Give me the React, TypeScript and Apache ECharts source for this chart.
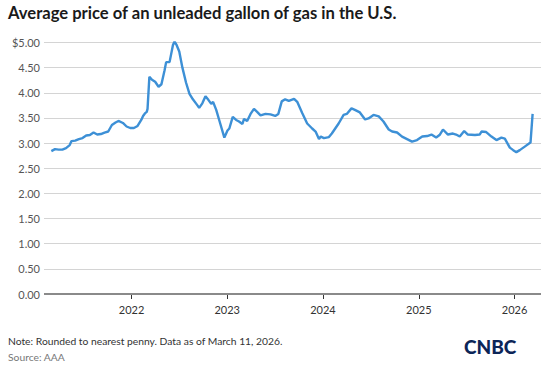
import React, { useEffect, useRef } from "react";
import * as echarts from "echarts";

const dates: string[] = [
  "2021-03-01","2021-03-15","2021-03-29","2021-04-12","2021-04-26","2021-05-10","2021-05-17","2021-05-31",
  "2021-06-14","2021-06-28","2021-07-12","2021-07-26","2021-08-09","2021-08-23","2021-09-06","2021-09-20",
  "2021-10-04","2021-10-18","2021-11-01","2021-11-12","2021-11-29","2021-12-13","2021-12-27","2022-01-10",
  "2022-01-24","2022-02-07","2022-02-14","2022-02-21","2022-02-28","2022-03-03","2022-03-10","2022-03-20",
  "2022-04-01","2022-04-14","2022-04-25","2022-05-07","2022-05-13","2022-05-26","2022-06-08","2022-06-14",
  "2022-06-21","2022-07-02","2022-07-14","2022-07-28","2022-08-10","2022-08-23","2022-09-08","2022-09-16",
  "2022-09-28","2022-10-10","2022-10-21","2022-11-01","2022-11-08","2022-11-20","2022-12-03","2022-12-21",
  "2023-01-02","2023-01-09","2023-01-22","2023-02-04","2023-02-15","2023-02-28","2023-03-06","2023-03-18",
  "2023-03-31","2023-04-13","2023-04-25","2023-05-08","2023-05-27","2023-06-15","2023-07-03","2023-07-15",
  "2023-07-28","2023-08-10","2023-08-24","2023-09-13","2023-09-25","2023-10-14","2023-11-02","2023-11-21",
  "2023-12-04","2023-12-17","2023-12-24","2024-01-05","2024-01-24","2024-02-04","2024-02-17","2024-03-01",
  "2024-03-20","2024-04-01","2024-04-19","2024-05-02","2024-05-21","2024-06-10","2024-06-23","2024-07-12",
  "2024-08-01","2024-08-19","2024-09-08","2024-09-21","2024-10-10","2024-10-29","2024-11-17","2024-12-06",
  "2024-12-25","2025-01-14","2025-02-02","2025-02-18","2025-03-08","2025-03-21","2025-04-03","2025-04-22",
  "2025-05-11","2025-05-23","2025-06-06","2025-06-23","2025-07-07","2025-08-03","2025-08-21","2025-08-28",
  "2025-09-15","2025-10-05","2025-10-24","2025-11-12","2025-11-25","2025-12-14","2025-12-27","2026-01-08",
  "2026-01-21","2026-02-09","2026-02-28","2026-03-03","2026-03-11"
];

const prices: number[] = [
  2.84,2.88,2.87,2.87,2.90,2.96,3.04,3.05,
  3.08,3.10,3.15,3.16,3.21,3.17,3.18,3.21,
  3.23,3.36,3.41,3.44,3.40,3.33,3.30,3.30,
  3.34,3.46,3.54,3.59,3.62,3.68,4.32,4.26,
  4.22,4.12,4.17,4.45,4.61,4.61,4.95,5.02,
  4.96,4.82,4.50,4.20,3.98,3.87,3.76,3.70,
  3.79,3.93,3.86,3.78,3.82,3.66,3.43,3.11,
  3.25,3.29,3.52,3.46,3.43,3.38,3.48,3.44,
  3.58,3.68,3.62,3.55,3.58,3.57,3.54,3.58,
  3.83,3.87,3.84,3.88,3.82,3.60,3.39,3.29,
  3.23,3.08,3.13,3.10,3.12,3.19,3.29,3.39,
  3.56,3.58,3.69,3.66,3.61,3.47,3.49,3.56,
  3.53,3.43,3.27,3.23,3.21,3.13,3.08,3.03,
  3.06,3.13,3.14,3.17,3.11,3.16,3.27,3.17,
  3.19,3.17,3.13,3.24,3.17,3.16,3.17,3.23,
  3.22,3.13,3.06,3.11,3.09,2.91,2.86,2.82,
  2.86,2.93,3.00,3.01,3.58
];

const yearTicks: string[] = ["2022-01-01", "2023-01-01", "2024-01-01", "2025-01-01", "2026-01-01"];

const title = "Average price of an unleaded gallon of gas in the U.S.";
const note = "Note: Rounded to nearest penny. Data as of March 11, 2026.";
const source = "Source: AAA";

const ts = (d: string) => Date.UTC(+d.slice(0, 4), +d.slice(5, 7) - 1, +d.slice(8, 10));

export default function App() {
  const ref = useRef<HTMLDivElement>(null);
  useEffect(() => {
    if (!ref.current) return;
    const chart = echarts.init(ref.current, null, { renderer: "svg" });
    const font = "Lato, 'Open Sans', sans-serif";
    const tickTs = yearTicks.map(ts);
    chart.setOption({
      animation: false,
      backgroundColor: "#ffffff",
      textStyle: { fontFamily: font },
      grid: { left: 44, right: 9, top: 42.5, bottom: 72, containLabel: false },
      xAxis: {
        type: "value",
        min: ts("2021-02-01"),
        max: ts("2026-04-12"),
        axisLine: { show: false },
        axisTick: {
          show: true,
          customValues: tickTs,
          length: 5,
          lineStyle: { color: "#333333", width: 1 },
        },
        axisLabel: {
          customValues: tickTs,
          formatter: (v: number) => String(new Date(v).getUTCFullYear()),
          color: "#333333",
          fontSize: 11,
          fontFamily: font,
          margin: 10,
        },
        splitLine: { show: false },
      },
      yAxis: {
        type: "value",
        min: 0,
        max: 5,
        interval: 0.5,
        axisLine: { show: false },
        axisTick: { show: false },
        axisLabel: {
          formatter: (v: number) => (v === 5 ? "$5.00" : v.toFixed(2)),
          color: "#555555",
          fontSize: 11,
          fontFamily: font,
          margin: 4,
        },
        splitLine: { lineStyle: { color: "#d4d4d4", width: 1 } },
      },
      series: [
        {
          type: "line",
          data: dates.map((d, i) => [ts(d), prices[i]]),
          showSymbol: false,
          lineStyle: { color: "#3d90d6", width: 2.4 },
          markLine: {
            silent: true,
            symbol: "none",
            label: { show: false },
            lineStyle: { color: "#8a8a8a", width: 2, type: "solid" },
            data: [{ yAxis: 0 }],
          },
        },
      ],
      graphic: [
        {
          type: "text",
          left: 8,
          top: 4,
          style: { text: title, font: `bold 16.6px ${font}`, fill: "#1a1a1a" },
        },
        {
          type: "text",
          left: 8,
          top: 336,
          style: { text: note, font: `10.3px ${font}`, fill: "#333333" },
        },
        {
          type: "text",
          left: 8,
          top: 352,
          style: { text: source, font: `10.3px ${font}`, fill: "#777777" },
        },
        {
          type: "text",
          left: 464,
          top: 337,
          style: { text: "CNBC", font: `900 19px ${font}`, fill: "#0c2557" },
        },
      ],
    });
    return () => chart.dispose();
  }, []);
  return (
    <div
      ref={ref}
      style={{ position: "fixed", left: 0, top: 0, width: 550, height: 366 }}
    />
  );
}
